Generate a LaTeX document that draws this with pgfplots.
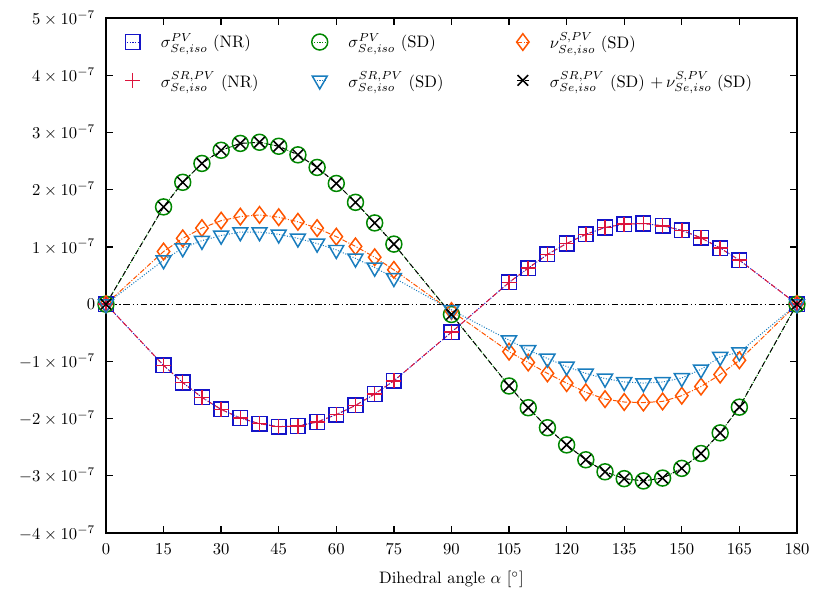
\documentclass[border=0pt]{standalone}
\usepackage{pgfplots}
\pgfplotsset{compat=1.18}
\definecolor{cNR}{RGB}{20,20,200}
\definecolor{cSR}{RGB}{220,20,60}
\definecolor{cGr}{RGB}{0,135,0}
\definecolor{cOr}{RGB}{255,85,0}
\definecolor{cTr}{RGB}{25,125,190}

\pgfplotstableread{
a    nr     sd     nu     srsd
0    0      0      0      0
15  -1.07   1.70   0.92   0.77
20  -1.37   2.13   1.15   0.98
25  -1.63   2.46   1.33   1.11
30  -1.84   2.69   1.46   1.20
35  -1.99   2.81   1.53   1.26
40  -2.09   2.83   1.56   1.26
45  -2.14   2.76   1.52   1.22
50  -2.13   2.61   1.44   1.15
55  -2.06   2.39   1.33   1.06
60  -1.93   2.11   1.18   0.95
65  -1.77   1.78   1.01   0.80
70  -1.57   1.42   0.82   0.64
75  -1.34   1.05   0.60   0.46
90  -0.49  -0.18  -0.12  -0.10
105  0.38  -1.43  -0.83  -0.63
110  0.63  -1.81  -1.02  -0.80
115  0.87  -2.16  -1.21  -0.95
120  1.06  -2.46  -1.38  -1.09
125  1.22  -2.72  -1.54  -1.21
130  1.34  -2.93  -1.66  -1.30
135  1.40  -3.05  -1.71  -1.36
140  1.41  -3.09  -1.72  -1.38
145  1.37  -3.04  -1.70  -1.36
150  1.29  -2.87  -1.60  -1.29
155  1.16  -2.61  -1.44  -1.14
160  0.98  -2.25  -1.23  -0.92
165  0.77  -1.80  -0.98  -0.84
180  0      0      0      0
}\data

\begin{document}
\begin{tikzpicture}
\begin{axis}[
  scale only axis, width=416pt, height=310pt,
  xmin=0, xmax=180, ymin=-4, ymax=5,
  xtick={0,15,...,180},
  ytick={-4,-3,...,5},
  yticklabels={$-4\times10^{-7}$,$-3\times10^{-7}$,$-2\times10^{-7}$,$-1\times10^{-7}$,$0$,$1\times10^{-7}$,$2\times10^{-7}$,$3\times10^{-7}$,$4\times10^{-7}$,$5\times10^{-7}$},
  yticklabel style={xshift=-3pt},
  xticklabel style={yshift=-3pt},
  xlabel={Dihedral angle $\alpha$ [$^\circ$]},
  xlabel style={yshift=-3pt},
  axis line style={line width=0.9pt},
  tick style={line width=0.8pt, black},
  major tick length=4pt,
  every axis plot/.append style={line width=0.6pt},
  legend columns=3,
  legend cell align=left,
  legend style={at={(0.02,0.985)}, anchor=north west, draw=none, fill=none,
    row sep=8pt,
    /tikz/every odd column/.append style={column sep=10.5pt},
    /tikz/column 2/.append style={column sep=30pt},
    /tikz/column 4/.append style={column sep=42pt}},
  legend image code/.code={\draw[mark repeat=2,mark phase=2] plot coordinates {(0cm,0cm) (0.12cm,0cm) (0.24cm,0cm)};},
]
\addplot[black, thin, dash pattern=on 4pt off 1.5pt on 1pt off 1.5pt on 1pt off 1.5pt, forget plot] coordinates {(0,0) (180,0)};
\addplot[cNR, densely dotted, mark=square, mark size=4.4pt, mark options={solid, line width=0.9pt}] table[x=a, y=nr] {\data};
\addlegendentry{$\sigma^{PV}_{Se,iso}$ (NR)}
\addplot[cGr, densely dotted, mark=o, mark size=4.8pt, mark options={solid, line width=0.9pt}] table[x=a, y=sd] {\data};
\addlegendentry{$\sigma^{PV}_{Se,iso}$ (SD)}
\addplot[cOr, densely dashdotted, mark=diamond, mark size=5pt, mark options={solid, line width=0.9pt}] table[x=a, y=nu] {\data};
\addlegendentry{$\nu^{S,PV}_{Se,iso}$ (SD)}
\addplot[cSR, densely dashed, mark=+, mark size=4.5pt, mark options={solid, line width=0.9pt}] table[x=a, y=nr] {\data};
\addlegendentry{$\sigma^{SR,PV}_{Se,iso}$ (NR)}
\addplot[cTr, densely dotted, mark=triangle, mark size=5.2pt, mark options={solid, rotate=180, line width=0.9pt}] table[x=a, y=srsd] {\data};
\addlegendentry{$\sigma^{SR,PV}_{Se,iso}$ (SD)}
\addplot[black, densely dashed, mark=x, mark size=4.5pt, mark options={solid, line width=0.9pt}] table[x=a, y=sd] {\data};
\addlegendentry{$\sigma^{SR,PV}_{Se,iso}$ (SD) $+\,\nu^{S,PV}_{Se,iso}$ (SD)}
\end{axis}
\path[use as bounding box] (-63.8pt,-36.1pt) rectangle (435.9pt,320.9pt);
\end{tikzpicture}
\end{document}
